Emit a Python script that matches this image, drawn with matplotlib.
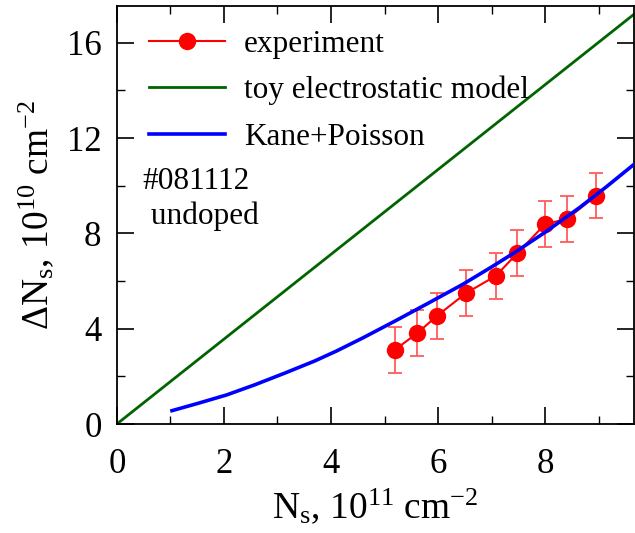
import matplotlib
matplotlib.use("Agg")
import matplotlib.pyplot as plt
from matplotlib.ticker import MultipleLocator

plt.rcParams["font.family"] = ["Liberation Serif", "DejaVu Serif"]
plt.rcParams["mathtext.fontset"] = "custom"
plt.rcParams["mathtext.rm"] = "Liberation Serif"
plt.rcParams["mathtext.it"] = "Liberation Serif:italic"

# experiment
ns_exp = [5.19, 5.61, 5.98, 6.52, 7.08, 7.48, 8.00, 8.41, 8.95]
dns_exp = [3.11, 3.81, 4.54, 5.49, 6.22, 7.17, 8.39, 8.61, 9.58]
dns_err = [0.97, 0.97, 0.97, 0.97, 0.97, 0.97, 0.97, 0.97, 0.95]

# toy electrostatic model (straight line through origin)
ns_toy = [0.0, 9.7]
dns_toy = [0.0, 17.27]

# Kane+Poisson
ns_kp = [1.03, 1.52, 2.05, 2.57, 3.13, 3.69, 4.10, 4.60, 5.22, 5.84,
         6.46, 7.02, 7.46, 8.02, 8.64, 9.14, 9.66]
dns_kp = [0.56, 0.87, 1.22, 1.64, 2.13, 2.64, 3.06, 3.62, 4.35, 5.10,
          5.86, 6.62, 7.24, 8.08, 9.08, 9.95, 10.90]

fig = plt.figure(figsize=(6.35, 5.33), dpi=100)
ax = fig.add_axes([0.184, 0.2045, 0.8145, 0.7845])

ax.errorbar(ns_exp, dns_exp, yerr=dns_err, fmt="none", ecolor="#ff5a5a",
            elinewidth=1.3, capsize=5, capthick=1.3, zorder=2)
ax.plot(ns_exp, dns_exp, "-o", color="red", lw=1.5, ms=11.5,
        label="experiment", zorder=3)
ax.plot(ns_toy, dns_toy, color="#006400", lw=2, label="toy electrostatic model", zorder=1)
ax.plot(ns_kp, dns_kp, color="blue", lw=2.6, label="Kane+Poisson", zorder=4)

ax.set_xlim(0, 9.66)
ax.set_ylim(0, 17.55)
ax.xaxis.set_major_locator(MultipleLocator(2))
ax.xaxis.set_minor_locator(MultipleLocator(1))
ax.yaxis.set_major_locator(MultipleLocator(4))
ax.yaxis.set_minor_locator(MultipleLocator(2))
ax.tick_params(which="both", direction="in", top=True, right=True,
               labelsize=25, colors="black")
ax.tick_params(which="major", length=12, width=1.2)
ax.tick_params(axis="x", which="major", pad=17)
ax.tick_params(axis="y", which="major", pad=11)
ax.tick_params(which="minor", length=6, width=1.0)
for sp in ax.spines.values():
    sp.set_linewidth(1.3)

ax.set_xlabel(r"N$_\mathrm{s}$, 10$^{11}$ cm$^{-2}$", fontsize=27, labelpad=4)
ax.set_ylabel(r"$\Delta$N$_\mathrm{s}$, 10$^{10}$ cm$^{-2}$", fontsize=27, labelpad=8)

ax.legend(loc="upper left", bbox_to_anchor=(0.062, 0.943), frameon=False,
          fontsize=22.5, handlelength=2.42, handletextpad=0.62,
          labelspacing=0.55, borderaxespad=0, borderpad=0)

ax.text(0.05, 0.539, "#081112\n undoped", transform=ax.transAxes,
        fontsize=22.5, ha="left", va="center", linespacing=1.25)

fig.savefig("out.png", dpi=100)
